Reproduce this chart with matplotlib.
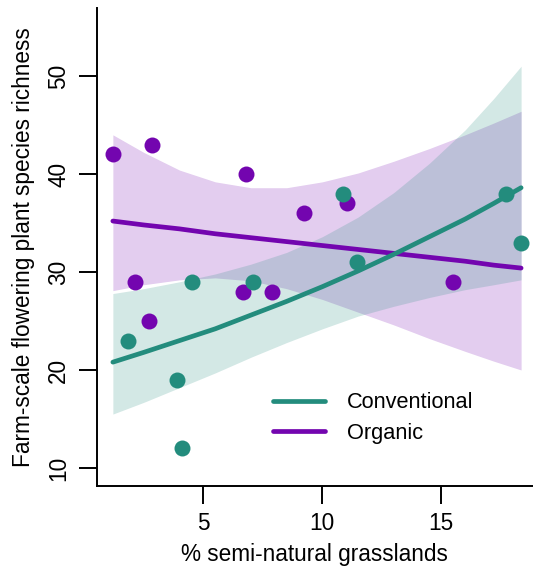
import matplotlib
matplotlib.use("Agg")
import matplotlib.pyplot as plt
from matplotlib.lines import Line2D

plt.rcParams["font.family"] = ["Liberation Sans", "DejaVu Sans"]

# ── DATA ────────────────────────────────────────────────────────────
conv_x = [1.84, 3.90, 4.11, 4.53, 7.09, 10.87, 11.46, 17.72, 18.35]
conv_y = [23, 19, 12, 29, 29, 38, 31, 38, 33]
org_x  = [1.21, 2.13, 2.72, 2.84, 6.67, 6.79, 7.88, 9.23, 11.03, 15.49]
org_y  = [42, 29, 25, 43, 28, 40, 28, 36, 37, 29]

# fitted lines and 95% bands, sampled along x
fit_x    = [1.2, 2.5, 4, 5.5, 7, 8.5, 10, 11.5, 13, 14.5, 16, 17.2, 18.35]
conv_fit = [20.8, 21.8, 23.0, 24.2, 25.6, 27.0, 28.5, 30.1, 31.8, 33.6, 35.4, 37.0, 38.6]
conv_lo  = [15.5, 16.7, 18.2, 19.7, 21.3, 22.8, 24.2, 25.5, 26.5, 27.4, 28.2, 28.7, 29.2]
conv_hi  = [27.8, 28.3, 29.0, 29.8, 30.8, 32.0, 33.6, 35.6, 38.1, 41.1, 44.5, 47.7, 51.0]
org_fit  = [35.2, 34.8, 34.4, 33.9, 33.5, 33.1, 32.7, 32.3, 31.9, 31.5, 31.1, 30.7, 30.4]
org_lo   = [28.1, 28.7, 29.2, 29.4, 29.1, 28.3, 27.2, 25.9, 24.6, 23.2, 21.9, 20.9, 20.0]
org_hi   = [44.0, 42.2, 40.4, 39.2, 38.6, 38.6, 39.2, 40.1, 41.3, 42.6, 44.0, 45.2, 46.4]

x_ticks = [5, 10, 15]
y_ticks = [10, 20, 30, 40, 50]

TEAL   = "#238c7d"
PURPLE = "#7305af"

# ── PLOT ────────────────────────────────────────────────────────────
fig = plt.figure(figsize=(5.33, 5.69), dpi=100)
ax = fig.add_axes([0.1814, 0.1464, 0.8186, 0.8395])

# organic first, conventional drawn on top (as in the original)
ax.fill_between(fit_x, org_lo, org_hi, color=PURPLE, alpha=0.2, lw=0)
ax.plot(fit_x, org_fit, color=PURPLE, lw=3.4, solid_capstyle="round")
ax.plot(org_x, org_y, "o", color=PURPLE, ms=11.5, mew=0)

ax.fill_between(fit_x, conv_lo, conv_hi, color=TEAL, alpha=0.2, lw=0)
ax.plot(fit_x, conv_fit, color=TEAL, lw=3.4, solid_capstyle="round")
ax.plot(conv_x, conv_y, "o", color=TEAL, ms=11.5, mew=0)

ax.set_xlim(0.52, 18.85)
ax.set_ylim(8.19, 56.94)
ax.set_xticks(x_ticks)
ax.set_yticks(y_ticks)

for s in ["top", "right"]:
    ax.spines[s].set_visible(False)
for s in ["left", "bottom"]:
    ax.spines[s].set_linewidth(1.4)

ax.tick_params(axis="both", direction="out", length=13, width=1.4,
               labelsize=16.3, pad=6)
ax.tick_params(axis="y", labelrotation=90)
for lab in ax.get_yticklabels():
    lab.set_va("center")

ax.set_xlabel("% semi-natural grasslands", fontsize=16.3, labelpad=6)
ax.set_ylabel("Farm-scale flowering plant species richness", fontsize=16.3, labelpad=9)

handles = [
    Line2D([], [], color=TEAL, lw=3.4, solid_capstyle="round"),
    Line2D([], [], color=PURPLE, lw=3.4, solid_capstyle="round"),
]
ax.legend(handles, ["Conventional", "Organic"], loc="center left",
          bbox_to_anchor=(0.404, 0.1415), frameon=False, fontsize=15.7,
          borderpad=0, borderaxespad=0, handlelength=2.4,
          handletextpad=1.0, labelspacing=0.45)

fig.savefig("out.png", dpi=100)
